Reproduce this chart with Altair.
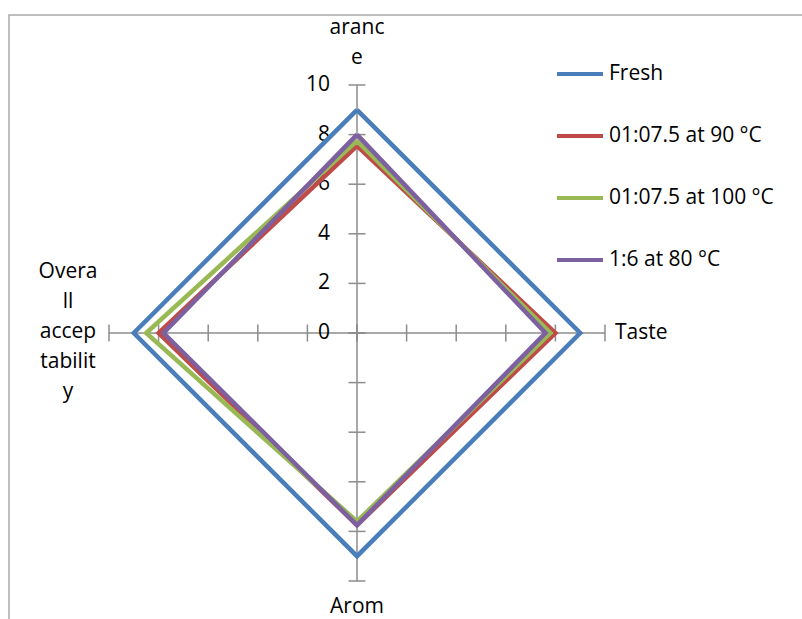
import math
import altair as alt
import pandas as pd

# ---- data ----
categories = ["Appearance", "Taste", "Aroma", "Overall acceptability"]
label_text = ["aranc\ne", "Taste", "Arom", "Overa\nll\naccep\ntabilit\ny"]
series = ["Fresh", "01:07.5 at 90 °C", "01:07.5 at 100 °C", "1:6 at 80 °C"]
fresh = [9.0, 9.0, 9.0, 9.0]
s90 = [7.55, 8.0, 7.75, 8.0]
s100 = [7.75, 7.8, 7.6, 8.5]
s80 = [8.0, 7.6, 7.75, 7.8]
colors = ["#4A7EBB", "#BE4B48", "#98B954", "#7D60A0"]
tick_values = [0, 2, 4, 6, 8, 10]
axis_max = 10

FONT = "Open Sans"
FS = 21
GRAY = "#8C8C8C"

n = len(categories)
angles = [math.pi / 2 - i * 2 * math.pi / n for i in range(n)]

# polygon rows
rows = []
for s, vals in zip(series, [fresh, s90, s100, s80]):
    for k in range(n + 1):
        i = k % n
        rows.append({"series": s, "order": k, "category": categories[i],
                     "value": vals[i], "ang": angles[i]})
poly = pd.DataFrame(rows)

spokes = pd.DataFrame({"category": categories, "ang": angles,
                       "r": [axis_max] * n, "idx": list(range(n))})
tick_rows = []
for i, c in enumerate(categories):
    for t in tick_values:
        tick_rows.append({"category": c, "idx": i, "t": t, "ang": angles[i],
                          "tang": 0 if i % 2 == 0 else 90})
ticks = pd.DataFrame(tick_rows)
labels = pd.DataFrame({"category": categories, "label": label_text,
                       "ang": angles, "r": [axis_max] * n, "idx": list(range(n))})

xs = alt.Scale(domain=[-axis_max, axis_max])
ys = alt.Scale(domain=[-axis_max, axis_max])

border = alt.Chart(pd.DataFrame({"a": [0]})).mark_rect(
    fillOpacity=0, stroke="#ABABAB", strokeWidth=1.5
).encode(x=alt.value(-100), x2=alt.value(900), y=alt.value(-70), y2=alt.value(700))

spoke = alt.Chart(spokes).transform_calculate(
    x="datum.r*cos(datum.ang)", y="datum.r*sin(datum.ang)", x0="0", y0="0"
).mark_rule(color=GRAY, strokeWidth=1.5).encode(
    x=alt.X("x0:Q", scale=xs, axis=None),
    y=alt.Y("y0:Q", scale=ys, axis=None),
    x2="x:Q", y2="y:Q",
)

tick = alt.Chart(ticks).transform_calculate(
    x="datum.t*cos(datum.ang)", y="datum.t*sin(datum.ang)"
).mark_point(shape="stroke", size=289, color=GRAY, strokeWidth=1.5, opacity=1).encode(
    x=alt.X("x:Q", scale=xs, axis=None),
    y=alt.Y("y:Q", scale=ys, axis=None),
    angle=alt.Angle("tang:Q", scale=None),
)

tick_lab = alt.Chart(ticks).transform_filter("datum.idx == 0").transform_calculate(
    x="datum.t*cos(datum.ang)", y="datum.t*sin(datum.ang)", lab="format(datum.t, 'd')"
).mark_text(align="right", baseline="middle", dx=-27, font=FONT, fontSize=FS, color="#000000").encode(
    x=alt.X("x:Q", scale=xs, axis=None),
    y=alt.Y("y:Q", scale=ys, axis=None),
    text="lab:N",
)

def cat_label(idx, align, dx, dy):
    return alt.Chart(labels).transform_filter(f"datum.idx == {idx}").transform_calculate(
        x="datum.r*cos(datum.ang)", y="datum.r*sin(datum.ang)"
    ).mark_text(align=align, baseline="middle", dx=dx, dy=dy, font=FONT, fontSize=FS,
                lineBreak="\n", lineHeight=30, color="#000000").encode(
        x=alt.X("x:Q", scale=xs, axis=None),
        y=alt.Y("y:Q", scale=ys, axis=None),
        text="label:N",
    )

lab_top = cat_label(0, "center", 0, -57)
lab_right = cat_label(1, "left", 10, 0)
lab_bottom = cat_label(2, "center", 0, 26)
lab_left = cat_label(3, "center", -41, -61)

lines = alt.Chart(poly).transform_calculate(
    x="datum.value*cos(datum.ang)", y="datum.value*sin(datum.ang)"
).mark_line(strokeWidth=4.5, strokeJoin="miter").encode(
    x=alt.X("x:Q", scale=xs, axis=None),
    y=alt.Y("y:Q", scale=ys, axis=None),
    order="order:Q",
    color=alt.Color("series:N", sort=series,
                    scale=alt.Scale(domain=series, range=colors),
                    legend=alt.Legend(orient="none", legendX=446, legendY=-36, title=None,
                                      symbolType="stroke", symbolSize=2116, symbolStrokeWidth=4,
                                      labelFont=FONT, labelFontSize=FS, labelColor="#000000",
                                      labelLimit=300, labelOffset=4, rowPadding=27, padding=0)),
)

chart = alt.layer(border, spoke, tick, tick_lab, lab_top, lab_right, lab_bottom, lab_left, lines).properties(
    width=496, height=496,
    autosize=alt.AutoSizeParams(type="none"),
    padding={"left": 109, "top": 85, "right": 197, "bottom": 38},
    background="#FFFFFF",
).configure_view(stroke=None)

chart.save("out.html", embed_options={"renderer": "svg", "actions": False})
